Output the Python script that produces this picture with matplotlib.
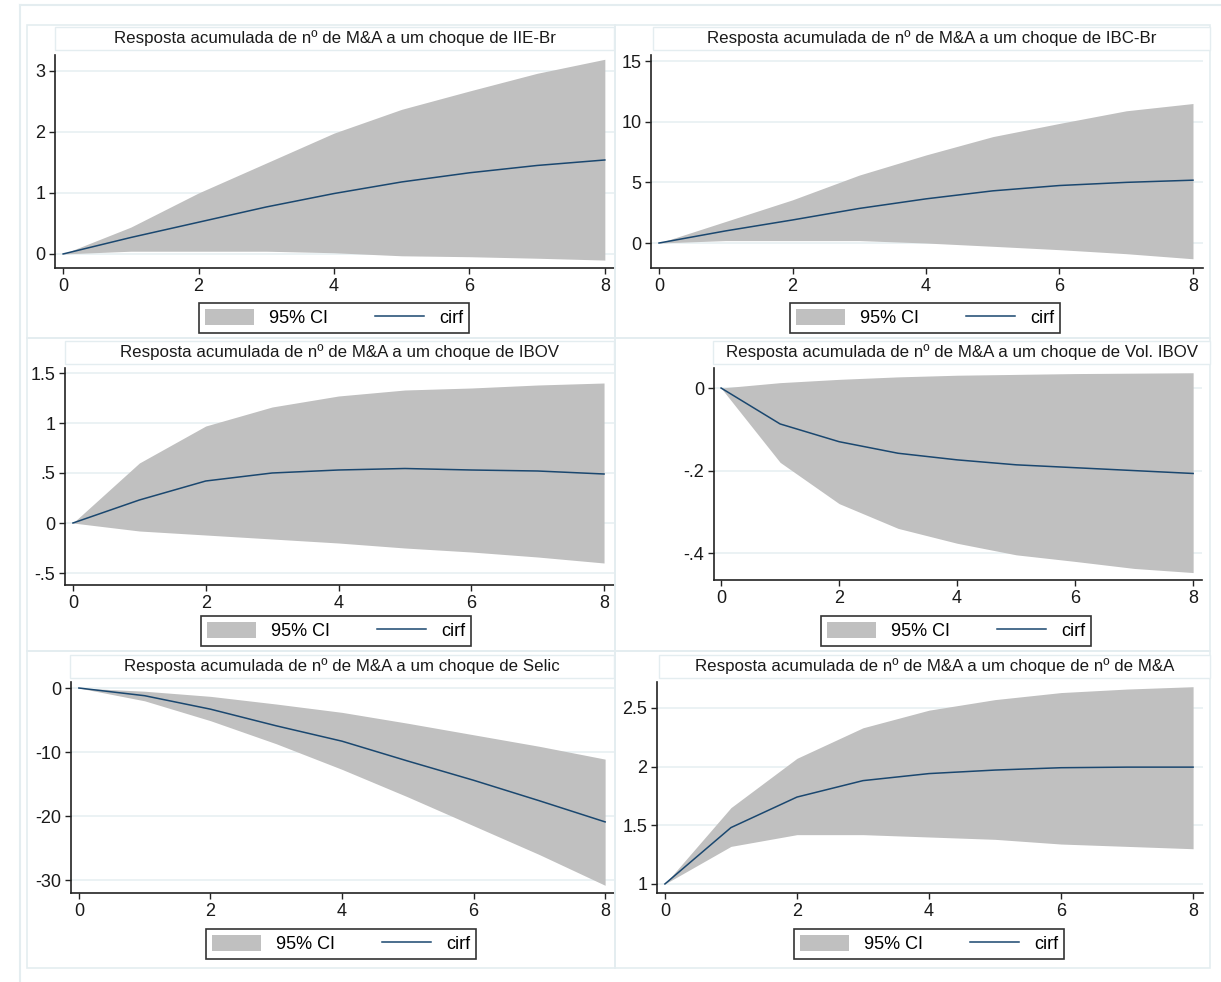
import matplotlib
matplotlib.use("Agg")
import matplotlib.pyplot as plt
from matplotlib import font_manager
from matplotlib.patches import Rectangle, Patch
from matplotlib.lines import Line2D

names = {f.name for f in font_manager.fontManager.ttflist}
FONT = 'Liberation Sans Narrow' if 'Liberation Sans Narrow' in names else 'Liberation Sans'
plt.rcParams['font.family'] = [FONT, 'DejaVu Sans']

steps = [0, 1, 2, 3, 4, 5, 6, 7, 8]
titles = [
    "Resposta acumulada de nº de M&A a um choque de IIE-Br",
    "Resposta acumulada de nº de M&A a um choque de IBC-Br",
    "Resposta acumulada de nº de M&A a um choque de IBOV",
    "Resposta acumulada de nº de M&A a um choque de Vol. IBOV",
    "Resposta acumulada de nº de M&A a um choque de Selic",
    "Resposta acumulada de nº de M&A a um choque de nº de M&A",
]
legend_labels = ['95% CI', 'cirf']

cirf_iie = [0, 0.27, 0.52, 0.77, 0.99, 1.18, 1.33, 1.45, 1.54]
lo_iie = [0, 0.045, 0.045, 0.045, 0.02, -0.03, -0.045, -0.07, -0.1]
hi_iie = [0, 0.44, 1.0, 1.49, 1.98, 2.37, 2.67, 2.96, 3.19]

cirf_ibc = [0, 1.0, 1.9, 2.85, 3.64, 4.3, 4.74, 5.0, 5.18]
lo_ibc = [0, 0.2, 0.2, 0.2, 0.0, -0.27, -0.55, -0.88, -1.3]
hi_ibc = [0, 1.78, 3.56, 5.6, 7.26, 8.77, 9.86, 10.9, 11.5]

cirf_ibov = [0, 0.23, 0.42, 0.5, 0.53, 0.545, 0.53, 0.52, 0.49]
lo_ibov = [0, -0.08, -0.12, -0.16, -0.2, -0.25, -0.29, -0.34, -0.4]
hi_ibov = [0, 0.6, 0.97, 1.16, 1.27, 1.33, 1.35, 1.38, 1.4]

cirf_vol = [0, -0.087, -0.13, -0.158, -0.174, -0.186, -0.193, -0.2, -0.207]
lo_vol = [0, -0.18, -0.28, -0.34, -0.376, -0.404, -0.42, -0.437, -0.447]
hi_vol = [0, 0.013, 0.021, 0.027, 0.031, 0.033, 0.035, 0.036, 0.037]

cirf_selic = [0, -1.2, -3.3, -5.9, -8.3, -11.4, -14.4, -17.6, -20.9]
lo_selic = [0, -2.0, -5.1, -8.7, -12.7, -17.0, -21.5, -26.0, -30.8]
hi_selic = [0, -0.5, -1.3, -2.5, -3.8, -5.5, -7.3, -9.1, -11.1]

cirf_ma = [1, 1.48, 1.74, 1.88, 1.94, 1.97, 1.99, 1.995, 1.995]
lo_ma = [1, 1.32, 1.42, 1.42, 1.40, 1.38, 1.34, 1.32, 1.30]
hi_ma = [1, 1.65, 2.07, 2.33, 2.48, 2.57, 2.63, 2.66, 2.68]

yticks = [
    ([0, 1, 2, 3], ["0", "1", "2", "3"]),
    ([0, 5, 10, 15], ["0", "5", "10", "15"]),
    ([-0.5, 0, 0.5, 1, 1.5], ["-.5", "0", ".5", "1", "1.5"]),
    ([-0.4, -0.2, 0], ["-.4", "-.2", "0"]),
    ([-30, -20, -10, 0], ["-30", "-20", "-10", "0"]),
    ([1, 1.5, 2, 2.5], ["1", "1.5", "2", "2.5"]),
]
xticks = [0, 2, 4, 6, 8]
series = [(cirf_iie, lo_iie, hi_iie), (cirf_ibc, lo_ibc, hi_ibc),
          (cirf_ibov, lo_ibov, hi_ibov), (cirf_vol, lo_vol, hi_vol),
          (cirf_selic, lo_selic, hi_selic), (cirf_ma, lo_ma, hi_ma)]

W, H = 1221, 982
fig = plt.figure(figsize=(W / 100, H / 100), dpi=100)
fig.patch.set_facecolor('white')

def fx(x): return x / W
def fy(y): return 1 - y / H

FILL = '#c0c0c0'
LINE = '#1a476f'
FRAME = '#e4edf0'
GRID = '#e8f0f2'

layout = [
    dict(ax=(55, 55, 615, 268), ylim=(-0.23, 3.26), tb=(55, 27, 614, 50), lg=(334, 318), fr=(27, 25, 615, 338)),
    dict(ax=(651, 55, 1203, 268), ylim=(-2.06, 15.5), tb=(653, 27, 1210, 50), lg=(925, 318), fr=(615, 25, 1210, 338)),
    dict(ax=(65, 368, 614, 585), ylim=(-0.62, 1.55), tb=(65, 341, 614, 364), lg=(336, 631), fr=(27, 338, 615, 651)),
    dict(ax=(714, 368, 1202, 580), ylim=(-0.465, 0.0485), tb=(713, 341, 1210, 364), lg=(956, 631), fr=(615, 338, 1210, 651)),
    dict(ax=(71, 682, 615, 893), ylim=(-32.0, 0.94), tb=(70, 655, 614, 678), lg=(341, 944), fr=(27, 651, 615, 968)),
    dict(ax=(657, 682, 1203, 893), ylim=(0.923, 2.72), tb=(659, 655, 1210, 678), lg=(929, 944), fr=(615, 651, 1210, 968)),
]

# outer faint frame (top and left edges)
fig.add_artist(Line2D([fx(20), fx(1221)], [fy(5), fy(5)], transform=fig.transFigure, color=FRAME, lw=1.5))
fig.add_artist(Line2D([fx(20), fx(20)], [fy(5), fy(982)], transform=fig.transFigure, color=FRAME, lw=1.5))

for lay, (c, lo, hi), (yt, ytl), title in zip(layout, series, yticks, titles):
    L, T, R, B = lay['ax']
    x0, y0, x1, y1 = lay['fr']
    fig.add_artist(Rectangle((fx(x0), fy(y1)), (x1 - x0) / W, (y1 - y0) / H, transform=fig.transFigure,
                             facecolor='none', edgecolor=FRAME, lw=1.2))
    x0, y0, x1, y1 = lay['tb']
    fig.add_artist(Rectangle((fx(x0), fy(y1)), (x1 - x0) / W, (y1 - y0) / H, transform=fig.transFigure,
                             facecolor='white', edgecolor=FRAME, lw=1.0))
    fig.text(fx((x0 + x1) / 2), fy((y0 + y1) / 2), title, ha='center', va='center',
             fontsize=12.2, color='#1a1a1a')

    ax = fig.add_axes([fx(L), fy(B), (R - L) / W, (B - T) / H])
    ax.set_facecolor('white')
    ax.fill_between(steps, lo, hi, color=FILL, lw=0, zorder=2)
    ax.plot(steps, c, color=LINE, lw=1.1, zorder=3)
    ax.set_xlim(-0.12, 8.15)
    ax.set_ylim(*lay['ylim'])
    ax.set_xticks(xticks)
    ax.set_xticklabels([str(t) for t in xticks])
    ax.set_yticks(yt)
    ax.set_yticklabels(ytl)
    ax.yaxis.grid(True, color=GRID, lw=1.2, zorder=0)
    ax.set_axisbelow(True)
    for s in ['top', 'right']:
        ax.spines[s].set_visible(False)
    for s in ['left', 'bottom']:
        ax.spines[s].set_color('#222222')
        ax.spines[s].set_linewidth(1.2)
    ax.tick_params(axis='both', direction='out', length=4, width=1, color='#222222',
                   labelsize=13, labelcolor='#1a1a1a', pad=3)

    lx, ly = lay['lg']
    handles = [Patch(facecolor=FILL, edgecolor='none'), Line2D([], [], color=LINE, lw=1.1)]
    leg = fig.legend(handles, legend_labels, loc='center', bbox_to_anchor=(fx(lx), fy(ly)),
                     bbox_transform=fig.transFigure, ncol=2, frameon=True, fancybox=False,
                     fontsize=13, handlelength=2.7, handleheight=1.0, handletextpad=0.85,
                     columnspacing=2.6, borderpad=0.35, borderaxespad=0)
    leg.get_frame().set_edgecolor('black')
    leg.get_frame().set_linewidth(1.2)

fig.savefig('out.png', dpi=100, facecolor='white')
